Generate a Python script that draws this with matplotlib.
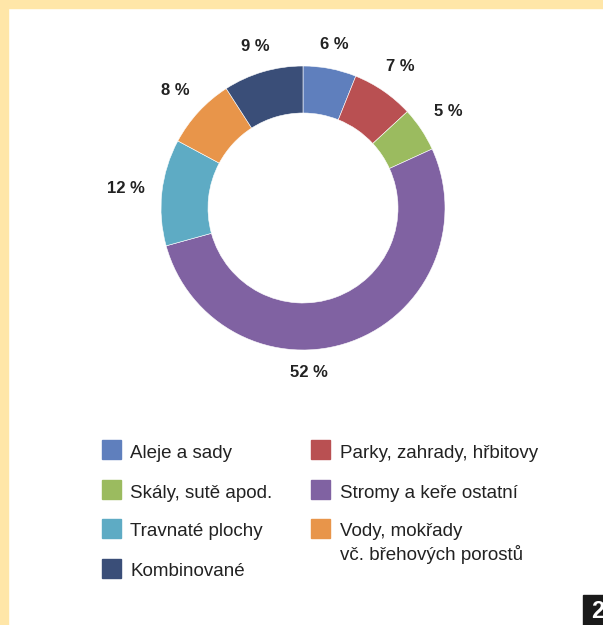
import numpy as np
import matplotlib.pyplot as plt
from matplotlib.patches import Rectangle

plt.rcParams['font.family'] = ['Liberation Sans', 'DejaVu Sans']

# podíly jednotlivých typů zeleně (%)
categories = ['Aleje a sady', 'Parky, zahrady, hřbitovy', 'Skály, sutě apod.',
              'Stromy a keře ostatní', 'Travnaté plochy',
              'Vody, mokřady\nvč. břehových porostů', 'Kombinované']
values = [6, 7, 5, 52, 12, 8, 9]
colors = ['#5f7fbd', '#b95052', '#9bbb5f', '#8062a2', '#5eabc4', '#e8954a', '#3a4e78']

W, H = 603, 625
fig = plt.figure(figsize=(W / 100, H / 100), dpi=100)
ax = fig.add_axes([0, 0, 1, 1])

# žlutý rámeček nahoře a vlevo
ax.add_patch(Rectangle((0, H - 8), W, 8, color='#ffe6a8', zorder=0))
ax.add_patch(Rectangle((0, 0), 8, H, color='#ffe6a8', zorder=0))

cx, cy, R = 303, H - 208, 142
wedges, _ = ax.pie(values, colors=colors, startangle=90, counterclock=False,
                   center=(cx, cy), radius=R, frame=True,
                   wedgeprops=dict(width=47, edgecolor='white', linewidth=0.4))
ax.set_xlim(0, W)
ax.set_ylim(0, H)
ax.set_aspect('equal')
ax.axis('off')

# popisky hodnot vně prstence
for w, v in zip(wedges, values):
    deg = (w.theta1 + w.theta2) / 2
    if v > 50:
        deg = -88  # velký výsek má popisek pod středem
    ang = np.deg2rad(deg)
    lw = 10.5 * len(f'{v} %') / 2
    r = R + 15 + abs(np.cos(ang)) * lw + abs(np.sin(ang)) * 7
    ax.text(cx + r * np.cos(ang), cy + r * np.sin(ang), f'{v} %',
            ha='center', va='center', fontsize=12, fontweight='bold', color='#222222')

# legenda ve dvou sloupcích
rows = [449, 489, 528, 568]
left_col = [0, 2, 4, 6]
right_col = [1, 3, 5]
for col_items, sx, tx in [(left_col, 102, 130), (right_col, 311, 340)]:
    for i, idx in enumerate(col_items):
        yc = H - rows[i]
        ax.add_patch(Rectangle((sx, yc - 9.5), 19, 19, color=colors[idx]))
        for j, line in enumerate(categories[idx].split('\n')):
            ax.text(tx, yc - 8.5 - 23.5 * j, line, ha='left', va='baseline',
                    fontsize=13.5, color='#222222')

# číslo strany
ax.add_patch(Rectangle((583, 0), 30, 30, color='#1a1a1a', clip_on=False))
ax.text(591, 13, '2', ha='left', va='center', fontsize=17, fontweight='bold', color='white')

fig.savefig('out.png', dpi=100)
